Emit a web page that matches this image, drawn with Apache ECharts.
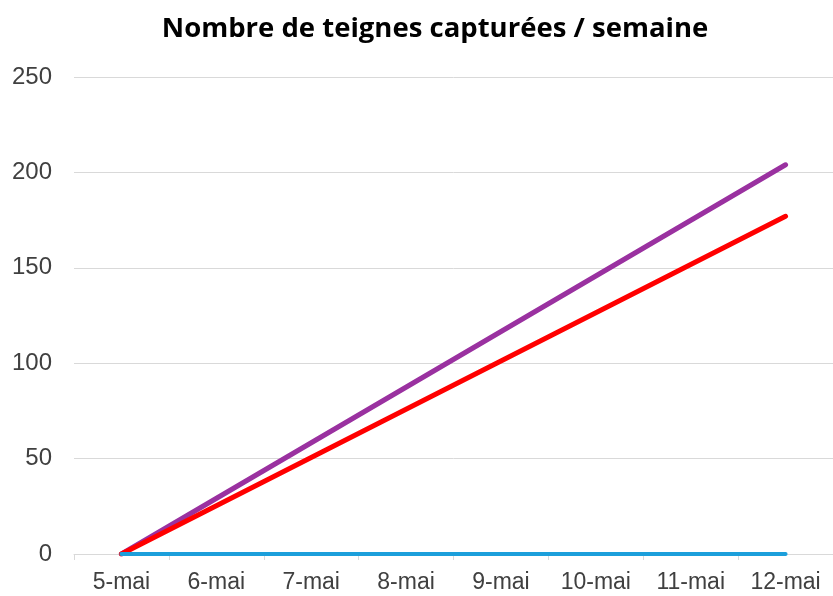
<!DOCTYPE html>
<html><head><meta charset="utf-8">
<script src="https://cdn.jsdelivr.net/npm/echarts@6/dist/echarts.min.js"></script>
<style>html,body{margin:0;padding:0;background:#fff}#c{width:833px;height:596px}</style>
</head><body><div id="c"></div>
<script>
const categories = ['5-mai','6-mai','7-mai','8-mai','9-mai','10-mai','11-mai','12-mai'];
const seriesPurple = [0, null, null, null, null, null, null, 204];
const seriesRed = [0, null, null, null, null, null, null, 177];
const seriesBlue = [0, null, null, null, null, null, null, 0];
const yTicks = {min: 0, max: 250, interval: 50};

const font = '"Liberation Sans", Arial, sans-serif';
const chart = echarts.init(document.getElementById('c'));
function line(name, data, color, w){
  return {name, type:'line', data, connectNulls:true, showSymbol:false, symbol:'none',
    lineStyle:{color, width:w, cap:'round'}, itemStyle:{color}, animation:false};
}
chart.setOption({
  animation:false,
  title:{text:'Nombre de teignes capturées / semaine', left:430, textAlign:'center', top:10,
    textStyle:{fontFamily:'"Open Sans", sans-serif', fontWeight:'bold', fontSize:27.5, color:'#000'}},
  grid:{left:74, width:764, top:77, bottom:42},
  xAxis:{type:'category', data:categories, boundaryGap:true,
    axisLine:{lineStyle:{color:'#d9d9d9', width:1}},
    axisTick:{show:true, length:6, lineStyle:{color:'#d9d9d9'}},
    axisLabel:{fontFamily:font, fontSize:23, color:'#404040', margin:17, interval:0, hideOverlap:false}},
  yAxis:{type:'value', min:yTicks.min, max:yTicks.max, interval:yTicks.interval,
    axisLine:{show:false}, axisTick:{show:false},
    splitLine:{lineStyle:{color:'#d9d9d9', width:1}},
    axisLabel:{fontFamily:font, fontSize:24, color:'#404040', margin:22}},
  series:[line('violet', seriesPurple, '#9a31a0', 5), line('rouge', seriesRed, '#ff0000', 5), line('bleu', seriesBlue, '#1c9fdb', 4)]
});
</script></body></html>
